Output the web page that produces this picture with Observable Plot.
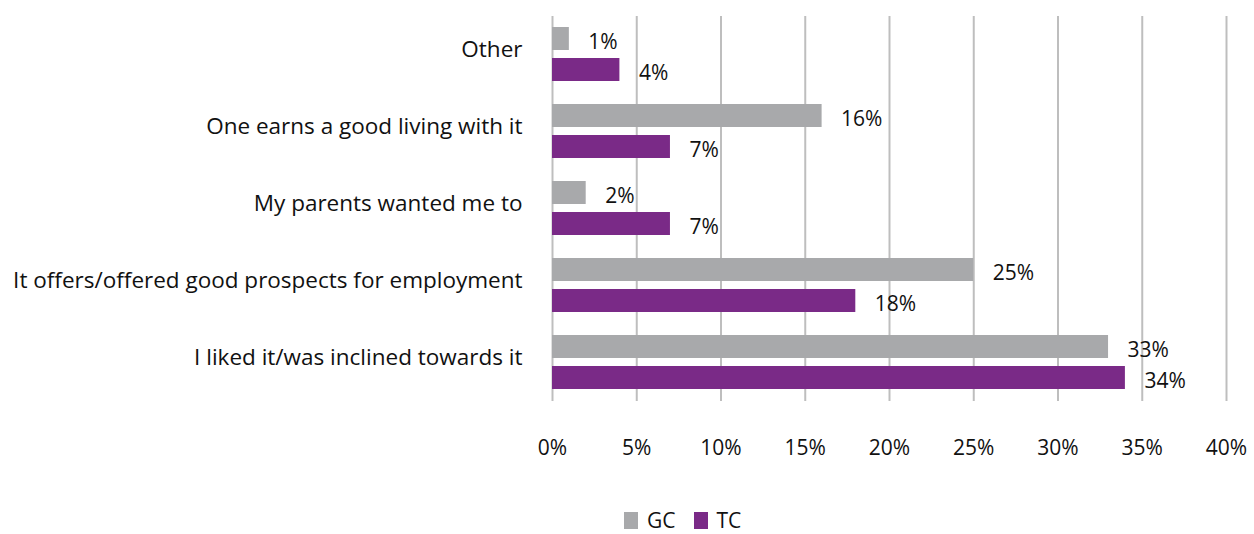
<!DOCTYPE html>
<html><head><meta charset="utf-8">
<script src="https://cdn.jsdelivr.net/npm/d3@7"></script>
<script src="https://cdn.jsdelivr.net/npm/@observablehq/plot@0.6"></script>
<style>
body{margin:0;background:#fff;font-family:"Open Sans",Lato,sans-serif;}
#wrap{position:relative;width:1254px;height:534px;}
#legend{position:absolute;left:624px;top:506px;display:flex;align-items:center;font-size:21px;color:#111;}
#legend span.sw{display:inline-block;width:14px;height:17px;margin-right:9px;}
#legend span.lb{margin-right:18px;}
</style>
</head><body>
<div id="wrap"><div id="chart"></div>
<div id="legend"><span class="sw" style="background:#A8A9AB"></span><span class="lb">GC</span><span class="sw" style="background:#7A2A87"></span><span class="lb">TC</span></div>
</div>
<script>
const categories = ["Other","One earns a good living with it","My parents wanted me to","It offers/offered good prospects for employment","I liked it/was inclined towards it"];
const series = ["GC","TC"];
const gcValues = [1,16,2,25,33];
const tcValues = [4,7,7,18,34];
const xTicks = [0,5,10,15,20,25,30,35,40];
const colors = ["#A8A9AB","#7A2A87"];

const data = [];
categories.forEach((c,i)=>{
  data.push({cat:c, series:"GC", value:gcValues[i]});
  data.push({cat:c, series:"TC", value:tcValues[i]});
});

const chart = Plot.plot({
  width:1254, height:472,
  marginLeft:552, marginRight:28, marginTop:15, marginBottom:70,
  style:{fontFamily:"'Open Sans', Lato, sans-serif", fontSize:"21px", color:"#111"},
  x:{domain:[0,40], ticks:xTicks, tickFormat:d=>d+"%", label:null, tickSize:0, tickPadding:39},
  y:{domain:series, axis:null, paddingInner:0.25, paddingOuter:0.34},
  fy:{domain:categories, axis:null, label:null, padding:0},
  color:{domain:series, range:colors},
  marks:[
    Plot.axisFy({anchor:"left", label:null, tickSize:0, tickPadding:30, dy:-5, fontSize:22.5}),
    Plot.ruleX(xTicks,{stroke:"#BEBEBE", strokeWidth:2}),
    Plot.barX(data,{x:"value", y:"series", fy:"cat", fill:"series"}),
    Plot.text(data,{x:"value", y:"series", fy:"cat", text:d=>d.value+"%", textAnchor:"start", dx:19, dy:3, fill:"#111", fontSize:21})
  ]
});
document.getElementById("chart").appendChild(chart);
</script>
</body></html>
